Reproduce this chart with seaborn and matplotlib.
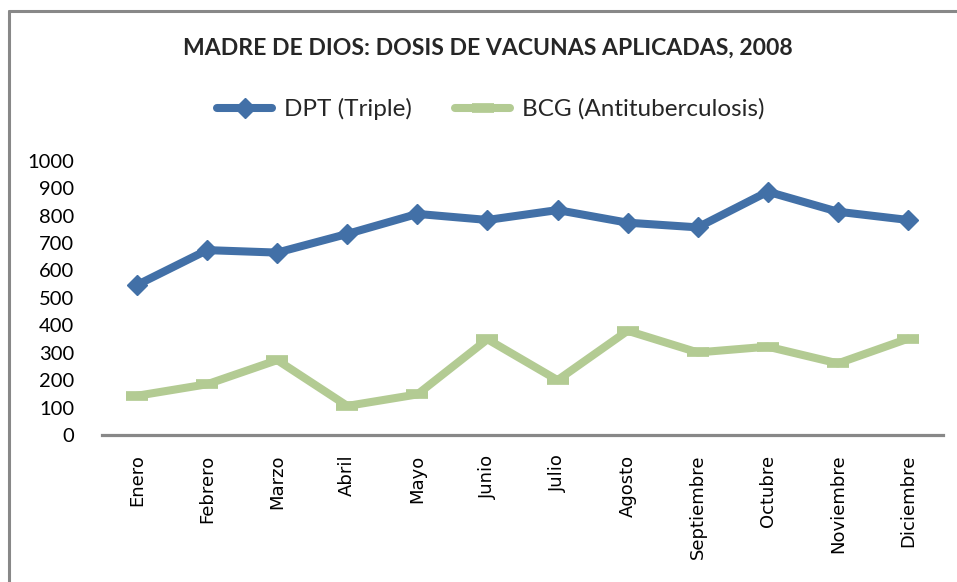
import pandas as pd
import matplotlib.pyplot as plt
from matplotlib.lines import Line2D
import seaborn as sns

# -----------------------------------------------------------------------------
# Data
# -----------------------------------------------------------------------------
meses = ["Enero", "Febrero", "Marzo", "Abril", "Mayo", "Junio", "Julio",
         "Agosto", "Septiembre", "Octubre", "Noviembre", "Diciembre"]
dpt = [547, 674, 665, 733, 806, 784, 820, 774, 757, 887, 814, 784]
bcg = [143, 185, 273, 106, 148, 349, 200, 380, 301, 322, 261, 351]
yticks = [0, 100, 200, 300, 400, 500, 600, 700, 800, 900, 1000]

titulo = "MADRE DE DIOS: DOSIS DE VACUNAS APLICADAS, 2008"
lbl_dpt = "DPT (Triple)"
lbl_bcg = "BCG (Antituberculosis)"

# -----------------------------------------------------------------------------
# Style
# -----------------------------------------------------------------------------
sns.set_theme(style="white")
plt.rcParams['font.family'] = ['Lato', 'DejaVu Sans']

azul = "#4270a7"
verde = "#b3cb93"
gris = "#888888"

# -----------------------------------------------------------------------------
# Plot
# -----------------------------------------------------------------------------
fig = plt.figure(figsize=(9.57, 5.82), dpi=100)
ax = fig.add_axes([102 / 957, 1 - 435 / 582, 841 / 957, 274.3 / 582])

sns.lineplot(x=meses, y=dpt, ax=ax, sort=False, color=azul, lw=5.8,
             marker="D", ms=10.5, mec=azul, mfc=azul, mew=1, label=lbl_dpt)
sns.lineplot(x=meses, y=bcg, ax=ax, sort=False, color=verde, lw=5.8,
             marker="_", ms=16, mec=verde, mew=7, label=lbl_bcg)

ax.set_xlim(-0.5, len(meses) - 0.5)
ax.set_ylim(0, 1000)
ax.set_yticks(yticks)
ax.set_yticklabels([str(v) for v in yticks], fontsize=14.5, color="black")
ax.set_xticks(range(len(meses)))
ax.set_xticklabels(meses, rotation=90, fontsize=13, color="black",
                   va="top", ha="center")
for t in ax.get_xticklabels():
    t.set_fontfamily("DejaVu Sans")
ax.tick_params(axis="both", length=0)
ax.tick_params(axis="y", pad=20)
ax.tick_params(axis="x", pad=14)
ax.set_xlabel("")
ax.set_ylabel("")

for s in ["top", "right", "left"]:
    ax.spines[s].set_visible(False)
ax.spines["bottom"].set_color(gris)
ax.spines["bottom"].set_linewidth(2.3)
ax.grid(False)

# Legend across the top
handles, labels = ax.get_legend_handles_labels()
ax.legend_.remove()
fig.legend(handles, labels, loc="center", bbox_to_anchor=(491 / 957, 1 - 109 / 582),
           ncol=2, frameon=False, fontsize=17.5, handlelength=2.26,
           handletextpad=0.5, columnspacing=1.77)

fig.text(488 / 957, 1 - 48 / 582, titulo, ha="center", va="center",
         fontsize=16.6, fontweight="bold", family=["Lato"])

# Chart border (cropped on the right and bottom)
fig.add_artist(Line2D([8.5 / 957, 8.5 / 957], [0, 1 - 11 / 582],
                      transform=fig.transFigure, color=gris, lw=2.2))
fig.add_artist(Line2D([8.5 / 957, 1], [1 - 11 / 582, 1 - 11 / 582],
                      transform=fig.transFigure, color=gris, lw=2.2))

plt.savefig("out.png", dpi=100)
